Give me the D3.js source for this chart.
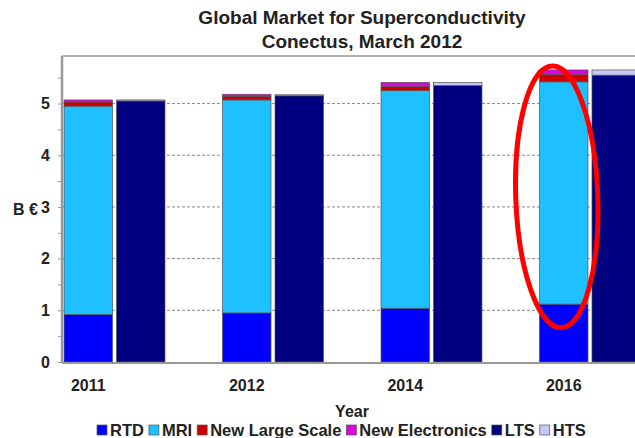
<!DOCTYPE html>
<html lang="en">
<head>
<meta charset="UTF-8">
<title>Global Market for Superconductivity</title>
<script src="https://d3js.org/d3.v7.min.js"></script>
<style>
body{margin:0; background:#fff;}
svg text{font-family:"Liberation Sans", Arial, sans-serif; font-weight:bold; fill:#222;}
</style>
</head>
<body>
<div id="chart"></div>
<script>
// data, billions of euro
var years = ["2011", "2012", "2014", "2016"];
var rtd = [0.92, 0.95, 1.04, 1.12];
var mri = [4.03, 4.12, 4.21, 4.30];
var newLargeScale = [0.08, 0.07, 0.08, 0.14];
var newElectronics = [0.04, 0.04, 0.08, 0.09];
var lts = [5.05, 5.15, 5.35, 5.55];
var hts = [0.02, 0.02, 0.06, 0.10];
var yTicks = [0, 1, 2, 3, 4, 5];
var seriesNames = ["RTD", "MRI", "New Large Scale", "New Electronics", "LTS", "HTS"];

var w = 635, h = 438;
var plotTop = 56, plotBottom = 362, plotLeft = 62, plotRight = 700;
var colors = {"RTD":"#0000ff", "MRI":"#1ec0ff", "New Large Scale":"#cc0000",
	"New Electronics":"#e000e0", "LTS":"#000080", "HTS":"#c8c8f4"};

var svg = d3.select("#chart").append("svg")
	.attr("width", w)
	.attr("height", h);

var y = d3.scaleLinear().domain([0, 5.92]).range([plotBottom, plotTop]);

var x = d3.scaleBand().domain(years).range([6.5, 698]).padding(0.363);
var inner = d3.scaleBand().domain(["stack", "lts"]).range([0, x.bandwidth()]).paddingInner(0.076);

// title
svg.append("text").attr("x", 362).attr("y", 24).attr("text-anchor", "middle")
	.style("font-size", "19px").text("Global Market for Superconductivity");
svg.append("text").attr("x", 362).attr("y", 48).attr("text-anchor", "middle")
	.style("font-size", "19px").text("Conectus, March 2012");

// gridlines
svg.append("g").selectAll("line")
	.data(yTicks.slice(1))
	.enter().append("line")
	.attr("x1", plotLeft).attr("x2", plotRight)
	.attr("y1", function(d){ return y(d); })
	.attr("y2", function(d){ return y(d); })
	.attr("stroke", "#8a8a8a")
	.attr("stroke-width", 1)
	.attr("stroke-dasharray", "3,2");

// top border
svg.append("line").attr("x1", plotLeft).attr("x2", plotRight).attr("y1", plotTop).attr("y2", plotTop)
	.attr("stroke", "#999").attr("stroke-width", 1.5);

// stacked bars
var stackRows = years.map(function(yr, i){
	return {year: yr, "RTD": rtd[i], "MRI": mri[i], "New Large Scale": newLargeScale[i], "New Electronics": newElectronics[i]};
});
var stackA = d3.stack().keys(["RTD", "MRI", "New Large Scale", "New Electronics"])(stackRows);

var ltsRows = years.map(function(yr, i){
	return {year: yr, "LTS": lts[i], "HTS": hts[i]};
});
var stackB = d3.stack().keys(["LTS", "HTS"])(ltsRows);

function drawStack(layers, slot){
	svg.append("g").selectAll("g")
		.data(layers)
		.enter().append("g")
		.attr("fill", function(d){ return colors[d.key]; })
		.selectAll("rect")
		.data(function(d){ return d; })
		.enter().append("rect")
		.attr("x", function(d){ return x(d.data.year) + inner(slot); })
		.attr("y", function(d){ return y(d[1]); })
		.attr("width", inner.bandwidth())
		.attr("height", function(d){ return y(d[0]) - y(d[1]); })
		.attr("stroke", "#555")
		.attr("stroke-width", 0.7);
}
drawStack(stackA, "stack");
drawStack(stackB, "lts");

// y axis
var yAxis = d3.axisLeft(y).tickValues(d3.range(0, 5.6, 0.5)).tickSize(4)
	.tickFormat(function(d){ return d % 1 === 0 ? d : ""; });
var ga = svg.append("g").attr("transform", "translate(" + plotLeft + ",0)").call(yAxis);
ga.select(".domain").remove();
ga.selectAll(".tick line").attr("stroke", "#999");
ga.selectAll(".tick text").attr("x", -12).style("font-size", "16px").style("font-family", null);
svg.append("line").attr("x1", plotLeft).attr("x2", plotLeft).attr("y1", plotTop).attr("y2", plotBottom + 1)
	.attr("stroke", "#999").attr("stroke-width", 2.5);
svg.append("line").attr("x1", plotLeft).attr("x2", plotRight).attr("y1", plotBottom + 1).attr("y2", plotBottom + 1)
	.attr("stroke", "#999").attr("stroke-width", 2);

svg.append("text").attr("x", 13).attr("y", 215).style("font-size", "16px").text("B €");

// x labels
svg.append("g").selectAll("text")
	.data(years)
	.enter().append("text")
	.attr("x", function(d){ return x(d) + inner("stack") + inner.bandwidth() / 2; })
	.attr("y", 391)
	.attr("text-anchor", "middle")
	.style("font-size", "16px")
	.text(function(d){ return d; });

svg.append("text").attr("x", 352).attr("y", 417).attr("text-anchor", "middle")
	.style("font-size", "16px").text("Year");

// red highlight ring round the 2016 stack
var last = years[years.length - 1];
svg.append("ellipse")
	.attr("cx", x(last) + inner("stack") + inner.bandwidth() / 2 - 7)
	.attr("cy", y(3.2))
	.attr("rx", 41)
	.attr("ry", 131)
	.attr("transform", "rotate(-2," + (x(last) + inner("stack") + inner.bandwidth() / 2) + "," + y(3.2) + ")")
	.attr("fill", "none")
	.attr("stroke", "#ff0000")
	.attr("stroke-width", 5);

// legend
var lg = svg.append("g");
var lx = 97;
seriesNames.forEach(function(name){
	lg.append("rect").attr("x", lx).attr("y", 425).attr("width", 10).attr("height", 10)
		.attr("fill", colors[name]).attr("stroke", "#555").attr("stroke-width", 0.7);
	var t = lg.append("text").attr("x", lx + 13).attr("y", 436)
		.style("font-size", "16.5px").text(name);
	lx += 13 + t.node().getComputedTextLength() + 5;
});
</script>
</body>
</html>
